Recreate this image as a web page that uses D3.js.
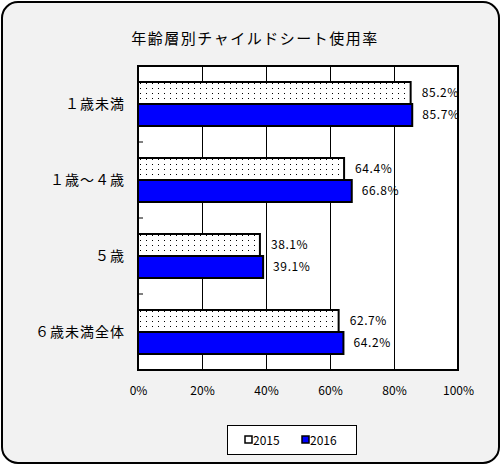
<!DOCTYPE html>
<html>
<head>
<meta charset="utf-8">
<script src="https://cdn.jsdelivr.net/npm/d3@7"></script>
<style>
  body { margin: 0; background: #fff; }
  svg text { font-family: "Noto Sans CJK JP", "DejaVu Sans", sans-serif; fill: #000; }
</style>
</head>
<body>
<svg id="chart" width="502" height="466"></svg>
<script>
// data
const categories = ["１歳未満", "１歳～４歳", "５歳", "６歳未満全体"];
const seriesNames = ["2015", "2016"];
const values2015 = [0.852, 0.644, 0.381, 0.627];
const values2016 = [0.857, 0.668, 0.391, 0.642];
const tickValues = [0, 0.2, 0.4, 0.6, 0.8, 1.0];

const title = "年齢層別チャイルドシート使用率";

const svg = d3.select("#chart");

const plot = {left: 138, right: 458, top: 66, bottom: 370};

// dotted pattern for 2015 bars
const defs = svg.append("defs");
const pat = defs.append("pattern")
    .attr("id", "dots")
    .attr("patternUnits", "userSpaceOnUse")
    .attr("width", 6)
    .attr("height", 5);
pat.append("rect").attr("width", 6).attr("height", 5).attr("fill", "#fff");
pat.append("rect").attr("x", 2).attr("y", 2).attr("width", 1).attr("height", 1).attr("fill", "#000");

const fills = {"2015": "url(#dots)", "2016": "#0000ff"};

// chart background
svg.append("rect")
    .attr("x", 2).attr("y", 2)
    .attr("width", 497).attr("height", 461)
    .attr("rx", 16).attr("ry", 16)
    .attr("fill", "#f2f2f2")
    .attr("stroke", "#000")
    .attr("stroke-width", 2);

svg.append("text")
    .attr("x", 255).attr("y", 44)
    .attr("text-anchor", "middle")
    .attr("font-size", 15)
    .attr("letter-spacing", 1.5)
    .text(title);

const x = d3.scaleLinear().domain([0, 1]).range([plot.left, plot.right]);
const y = d3.scaleBand().domain(categories).range([plot.top, plot.bottom]);
const ySub = d3.scaleBand().domain(seriesNames)
    .range([0, y.bandwidth()])
    .paddingInner(0)
    .paddingOuter(16 / 22);

// plot area
svg.append("rect")
    .attr("x", plot.left).attr("y", plot.top)
    .attr("width", plot.right - plot.left)
    .attr("height", plot.bottom - plot.top)
    .attr("fill", "#fff");

// gridlines
svg.append("g")
    .selectAll("line")
    .data(tickValues.slice(1, -1))
    .join("line")
      .attr("x1", d => Math.round(x(d)) + 0.5)
      .attr("x2", d => Math.round(x(d)) + 0.5)
      .attr("y1", plot.top)
      .attr("y2", plot.bottom)
      .attr("stroke", "#000")
      .attr("stroke-width", 1);

// category separator ticks
svg.append("g")
    .selectAll("line")
    .data(categories.slice(0, -1))
    .join("line")
      .attr("x1", plot.left)
      .attr("x2", plot.left + 5)
      .attr("y1", d => y(d) + y.bandwidth())
      .attr("y2", d => y(d) + y.bandwidth())
      .attr("stroke", "#000")
      .attr("stroke-width", 1);

// bars
const rows = categories.map((c, i) => ({
  category: c,
  items: [
    {series: "2015", value: values2015[i]},
    {series: "2016", value: values2016[i]}
  ]
}));

const groups = svg.append("g")
  .selectAll("g")
  .data(rows)
  .join("g")
    .attr("transform", d => `translate(0,${y(d.category)})`);

groups.selectAll("rect")
  .data(d => d.items)
  .join("rect")
    .attr("x", x(0))
    .attr("y", d => ySub(d.series))
    .attr("width", d => x(d.value) - x(0))
    .attr("height", ySub.bandwidth())
    .attr("fill", d => fills[d.series])
    .attr("stroke", "#000")
    .attr("stroke-width", 2);

groups.selectAll("text")
  .data(d => d.items)
  .join("text")
    .attr("x", d => x(d.value) + (d.series === "2015" ? 11 : 10))
    .attr("y", d => ySub(d.series) + ySub.bandwidth() / 2 + 4)
    .attr("font-size", 12)
    .attr("letter-spacing", 0.6)
    .text(d => (d.value * 100).toFixed(1) + "%");

// plot border
svg.append("rect")
    .attr("x", plot.left).attr("y", plot.top)
    .attr("width", plot.right - plot.left)
    .attr("height", plot.bottom - plot.top)
    .attr("fill", "none")
    .attr("stroke", "#000")
    .attr("stroke-width", 2);

// category labels
svg.append("g")
  .selectAll("text")
  .data(categories)
  .join("text")
    .attr("x", 125)
    .attr("y", d => y(d) + y.bandwidth() / 2 + 5)
    .attr("text-anchor", "end")
    .attr("font-size", 14)
    .attr("letter-spacing", 1)
    .text(d => d);

// x axis labels
const xAxis = d3.axisBottom(x)
    .tickValues(tickValues)
    .tickSize(0)
    .tickPadding(0)
    .tickFormat(d3.format(".0%"));

const gx = svg.append("g")
    .attr("transform", `translate(0,${plot.bottom + 25})`)
    .call(xAxis);
gx.select(".domain").remove();
gx.selectAll("text")
    .attr("font-size", 12)
    .attr("dy", 0)
    .attr("font-family", "\"Noto Sans CJK JP\", sans-serif");

// legend
const legend = svg.append("g");
legend.append("rect")
    .attr("x", 227.5).attr("y", 425.5)
    .attr("width", 129).attr("height", 29)
    .attr("fill", "#fff")
    .attr("stroke", "#000")
    .attr("stroke-width", 1);

const legendX = d3.scaleOrdinal().domain(seriesNames).range([245, 302]);

const li = legend.selectAll("g.item")
  .data(seriesNames)
  .join("g")
    .attr("class", "item")
    .attr("transform", d => `translate(${legendX(d)},440)`);

li.append("rect")
    .attr("x", 0).attr("y", -4)
    .attr("width", 7).attr("height", 7)
    .attr("fill", d => d === "2015" ? "#fff" : "#0000ff")
    .attr("stroke", "#000")
    .attr("stroke-width", 1.5);

li.append("text")
    .attr("x", 8)
    .attr("y", 4.5)
    .attr("font-size", 12)
    .text(d => d);
</script>
</body>
</html>
